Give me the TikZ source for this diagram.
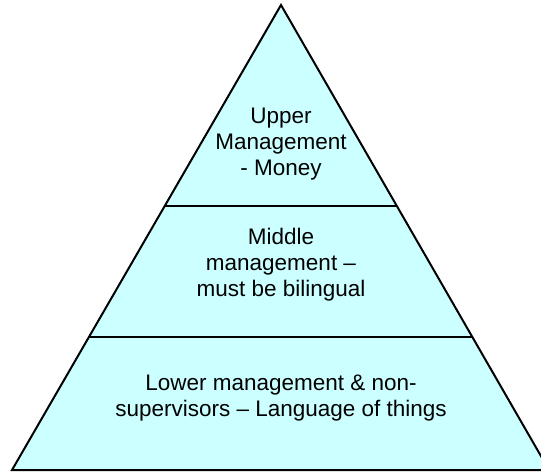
\documentclass[tikz,border=0pt]{standalone}
\usepackage{fontspec}
\setmainfont{Liberation Sans}
\usetikzlibrary{calc}
\definecolor{pyrfill}{RGB}{204,255,255}
\tikzset{
  layer/.style={draw=black,line width=2pt,fill=pyrfill},
  divider/.style={draw=black,line width=2pt},
  lbl/.style={align=center,font=\fontsize{22.5}{26}\selectfont,inner sep=0pt,text=black}
}
\begin{document}
\begin{tikzpicture}[x=1pt,y=-1pt]
\useasboundingbox (0,0) rectangle (541,472);
\coordinate (apex) at (281,5);
\coordinate (bl) at (12,470);
\coordinate (br) at (549,470);
\filldraw[layer] (apex) -- (bl) -- (br) -- cycle;
\coordinate (d1l) at ($(apex)!0.4312!(bl)$);
\coordinate (d1r) at ($(apex)!0.4312!(br)$);
\coordinate (d2l) at ($(apex)!0.7140!(bl)$);
\coordinate (d2r) at ($(apex)!0.7140!(br)$);
\draw[divider] (d1l) -- (d1r);
\draw[divider] (d2l) -- (d2r);
\node[lbl] (upper) at (281,144) {Upper\\Management\\- Money};
\node[lbl] (middle) at (281,265) {Middle\\management –\\must be bilingual};
\node[lbl] (lower) at (281,398) {Lower management \& non-\\supervisors – Language of things};
\end{tikzpicture}
\end{document}
